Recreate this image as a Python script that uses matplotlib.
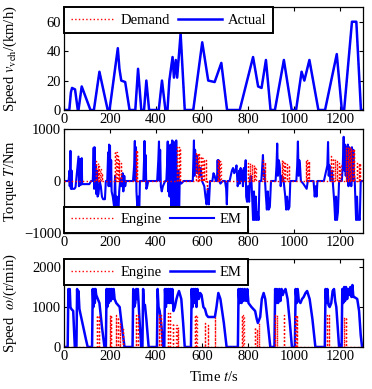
import numpy as np
import matplotlib
matplotlib.use("Agg")
import matplotlib.pyplot as plt

plt.rcParams['font.family'] = ['Liberation Serif', 'DejaVu Serif']
plt.rcParams['mathtext.fontset'] = 'stix'
plt.rcParams['font.size'] = 10.5

# ---------------- data ----------------
# Vehicle speed (km/h)
veh_t = [0, 23, 30, 35, 48, 60, 63, 77, 115, 130, 154, 190, 198, 234, 241, 249, 266, 285,
         310, 322, 336, 348, 358, 370, 412, 426, 441, 450, 458, 472, 478, 486, 492, 507, 525,
         562, 601, 627, 655, 684, 709, 764, 822, 844, 859, 878, 898, 917, 956, 990, 1009,
         1033, 1045, 1067, 1106, 1135, 1186, 1208, 1218, 1252, 1271, 1291, 1300]
actual_v = [0, 0, 12, 15, 14, 0, 0, 16, 0, 0, 26, 0, 0, 42, 28, 20, 19, 0,
            0, 28, 0, 0, 20, 0, 0, 20, 0, 0, 20, 36, 22, 34, 22, 52, 0,
            0, 46, 20, 19, 32, 0, 0, 36, 16, 15, 34, 0, 0, 34, 0, 0,
            26, 20, 34, 0, 0, 38, 0, 0, 60, 60, 0, 0]
demand_v = [0, 0, 12, 15, 14, 0, 0, 16, 0, 0, 26, 0, 0, 42, 28, 20, 19, 0,
            0, 28, 0, 0, 20, 0, 0, 20, 0, 0, 20, 36, 22, 34, 22, 52, 0,
            0, 46, 20, 19, 32, 0, 0, 36, 16, 15, 34, 0, 0, 34, 0, 0,
            26, 20, 34, 0, 0, 38, 0, 0, 60, 60, 0, 0]

# EM torque (Nm), polyline points
em_T_t = [0, 20, 24, 25, 28, 30, 33, 35, 45, 50, 63, 65, 70, 72, 77, 79, 85, 110, 118, 125,
          127, 129, 131, 133, 135, 138, 140, 143, 146, 150, 155, 160, 165, 170, 178, 182, 188,
          190, 192, 194, 196, 198, 200, 202, 205, 207, 212, 218, 222, 226, 230, 236, 240, 245,
          250, 255, 258, 262, 266, 270, 300,
          305, 308, 310, 313, 315, 320, 323, 327, 330, 345,
          348, 350, 352, 355, 358, 362, 366, 405,
          410, 413, 415, 418, 421, 425, 430, 440, 445,
          448, 451, 453, 456, 459, 463, 466, 470, 472, 476, 479, 482, 485, 488, 490, 494, 497,
          500, 503, 510, 520, 560,
          562, 565, 567, 570, 573, 576, 580, 585, 590, 595, 600, 610, 615, 620, 625, 630, 635,
          645, 650, 655, 660, 665,
          668, 670, 672, 675, 680, 690, 700, 705, 708, 711, 720,
          730, 735, 740, 745, 750, 755, 760,
          762, 764, 768, 770, 775, 778, 782, 785, 790, 792, 796, 800, 805, 808, 812, 815,
          818, 822, 826, 830, 834, 838, 842, 846, 850, 858, 862, 865, 868, 871, 874, 878,
          882, 886, 890, 895, 900, 920,
          924, 927, 930, 934, 938, 942, 948, 955, 962, 966, 970, 975, 980, 984, 1010,
          1014, 1017, 1020, 1023, 1026, 1030, 1040, 1055, 1060, 1085, 1090, 1095, 1098, 1102, 1130,
          1135, 1140, 1145, 1148, 1151, 1154, 1158, 1165, 1170, 1175, 1179, 1183, 1187, 1191,
          1196, 1208,
          1212, 1216, 1219, 1222, 1225, 1228, 1231, 1234, 1237, 1240, 1243, 1246, 1249, 1252,
          1255, 1258, 1261, 1264, 1267, 1270, 1274, 1278, 1282, 1286, 1290, 1300]
em_T_v = [0, 0, 200, -100, 580, -150, 200, -150, -150, -120, 470, -100, 420, -80, 440, -60, -60, -60, 0, 0,
          250, 640, -150, 650, -100, 300, -250, 200, -300, -250, 0, -100, -300, -350, -350, 0, 0,
          300, 550, -100, 700, 200, 680, -100, 400, -200, -300, -500, 100, -600, -300, -700, -200, 50,
          -100, 150, -200, 100, -100, 0, 0,
          300, 770, 0, 650, -200, -600, -300, -650, 0, 0,
          400, 770, 0, 500, -150, -100, 0, 0,
          400, 760, 0, 600, -100, -200, -100, 0, 0,
          300, 760, -200, 600, -300, 700, -500, 780, -700, 760, -400, 600, -900, 780, -300, -900, 200,
          -800, 0, -50, 0, 0,
          300, 780, 100, 600, 200, 500, 150, 300, 100, 250, 0, -100, -300, -450, -150, -450, 0,
          0, 150, 100, 0, 0,
          400, 150, 400, 0, -50, 0, 0, -150, -450, 0, 0,
          200, 250, 150, 200, 300, -100, 0,
          200, -50, 250, 0, 200, -100, 250, 0, 400, -300, -400, -100, -400, 0, 100, 0,
          -300, -750, -200, -750, -300, -750, -600, -750, 0, 0, 300, 500, 100, 200, 0, -300,
          -550, -200, -550, -500, 0, 0,
          300, 720, 100, 400, 300, -100, 100, 0, -300, -550, -300, -550, -500, 0, 0,
          300, 760, 100, 400, 300, 0, -50, -150, 0, 0, -300, -100, -300, 0, 0,
          100, 200, 300, 750, 100, 300, 0, 200, -100, -400, -750, -300, -750, -600,
          0, 0,
          300, 850, 200, 700, 100, 650, 0, 700, -100, 650, 0, 600, -100, 650,
          0, 600, 100, 0, -400, -750, -300, -750, -700, -750, 0, 0]

# Engine torque (Nm), spikes (time, value)
eng_T_t = [140, 146, 152, 158, 164,
           222, 228, 234, 240, 246,
           312, 318,
           492, 498, 504,
           574, 581, 588, 595, 602, 609, 616, 622,
           668, 674, 680,
           800, 808, 816, 824, 832,
           866, 874,
           946, 954, 962, 970, 978,
           1050, 1058, 1066,
           1162, 1170, 1178, 1186, 1194, 1202,
           1227, 1234, 1241, 1248, 1255, 1262, 1273, 1281, 1288]
eng_T_v = [380, 340, 290, 230, 150,
           580, 550, 480, 410, 350,
           600, 600,
           650, 650, 640,
           550, 530, 510, 480, 450, 420, 400, -150,
           400, 400, 380,
           350, 340, 320, 300, 260,
           400, 360,
           400, 380, 350, 320, 300,
           400, 400, 380,
           480, 450, 420, 390, 350, 300,
           650, 650, 650, 640, 620, 600, 350, 350, 350]

# EM speed (r/min), polyline points
em_w_t = [0, 16, 19, 22, 25, 28, 32, 40, 47, 54, 57, 60, 63, 67, 80, 95, 103, 122,
          125, 128, 131, 134, 137, 140, 147, 154, 165, 176, 182,
          185, 188, 191, 195, 199, 203, 207, 212, 216, 220, 227, 242, 250, 263, 298,
          301, 305, 310, 314, 318, 321, 328, 336, 341,
          344, 348, 352, 358, 368, 404,
          407, 411, 416, 424, 431, 436,
          439, 443, 447, 451, 455, 459, 463, 467, 471, 476, 482, 489, 494, 500, 510, 518, 525, 552,
          555, 559, 563, 567, 571, 576, 580, 586, 592, 598, 606, 613, 620, 627, 656, 663, 671,
          680, 695, 707, 756,
          759, 763, 767, 772, 776, 781, 786, 792, 797, 802, 815, 831, 838, 843, 853, 860, 868,
          875, 888, 897, 915,
          918, 922, 926, 931, 936, 941, 946, 951, 957, 963, 972, 982, 991, 1004,
          1007, 1012, 1016, 1021, 1028, 1035, 1042, 1050, 1057, 1068, 1080, 1093, 1134,
          1137, 1141, 1145, 1150, 1155, 1162, 1168, 1174, 1179, 1184, 1190, 1196, 1207,
          1210, 1214, 1218, 1222, 1226, 1231, 1236, 1240, 1245, 1250, 1254, 1258, 1262, 1275,
          1283, 1290, 1296, 1300]
em_w_v = [0, 0, 1450, 1000, 1450, 1000, 950, 900, 0, 0, 1450, 1000, 1400, 950, 600, 200, 0, 0,
          1450, 1000, 1450, 1100, 1450, 1300, 1200, 1100, 500, 0, 0,
          1450, 1000, 1450, 1100, 1450, 1150, 1450, 1200, 1450, 1200, 1100, 1000, 600, 0, 0,
          1450, 1000, 1100, 1450, 1200, 1450, 700, 0, 0,
          1450, 1000, 1050, 700, 0, 0,
          1450, 1000, 900, 500, 0, 0,
          1450, 1000, 1450, 1100, 1450, 1100, 1450, 1100, 1450, 900, 1000, 1200, 1300, 1400, 1200, 600, 0, 0,
          1450, 1000, 1450, 1100, 1450, 1000, 1450, 1200, 1350, 1300, 1000, 950, 800, 750, 750, 1000, 1350,
          1200, 600, 0, 0,
          1450, 1100, 1450, 1100, 1450, 1150, 1450, 1150, 1450, 1100, 1000, 900, 700, 600, 750, 1200, 1350,
          1200, 500, 0, 0,
          1450, 1100, 1450, 1100, 1450, 1150, 1450, 1300, 1400, 1450, 1200, 600, 0, 0,
          1450, 1100, 1450, 1150, 1100, 1200, 1250, 1350, 1400, 1200, 700, 0, 0,
          1450, 1100, 1450, 1050, 1000, 1100, 1400, 1450, 1150, 1000, 500, 0, 0,
          1450, 1100, 1500, 1150, 1500, 1200, 1450, 1300, 1500, 1250, 1550, 1250, 1250, 1200,
          900, 300, 0, 0]

# Engine speed (r/min), spikes (time, value)
eng_w_t = [142, 150, 198, 205, 227, 234, 242, 255, 314, 321, 413, 420, 452, 461, 474, 489, 496,
           569, 576, 613, 627, 656, 773, 780, 831, 838, 846, 918, 925, 955, 1006, 1013,
           1144, 1151, 1217, 1224]
eng_w_v = [800, 800, 800, 800, 800, 750, 600, 450, 800, 800, 800, 800, 850, 850, 600, 550, 500,
           800, 800, 600, 550, 750, 800, 800, 500, 450, 600, 800, 800, 800, 800, 800,
           800, 800, 750, 750]

x_ticks = [0, 200, 400, 600, 800, 1000, 1200]


def spikes(ts, vs, width=1.0, end=1300):
    xs, ys = [0], [0]
    for t, v in zip(ts, vs):
        xs += [t, t, t + width, t + width]
        ys += [0, v, v, 0]
    xs.append(end)
    ys.append(0)
    return xs, ys


# ---------------- figure ----------------
W, H = 372, 389
fig = plt.figure(figsize=(W / 100, H / 100), dpi=100)


def add_ax(top, bottom, left=64, right=363):
    return fig.add_axes([left / W, 1 - bottom / H, (right - left) / W, (bottom - top) / H])


ax1 = add_ax(7, 110)
ax2 = add_ax(129, 233)
ax3 = add_ax(259, 347)

red = '#ff0000'
blue = '#0000ff'

ax1.plot(veh_t, demand_v, color=red, ls=':', lw=1.0, label='Demand', zorder=1)
ax1.plot(veh_t, actual_v, color=blue, ls='-', lw=1.8, label='Actual', zorder=2)
ax1.set_ylim(0, 70)
ax1.set_yticks([0, 20, 40, 60])
ax1.set_ylabel(r'Speed $v_{\rm veh}$/(km/h)')

ex, ey = spikes(eng_T_t, eng_T_v)
ax2.plot(em_T_t, em_T_v, color=blue, lw=1.5, label='EM', zorder=2)
ax2.plot(ex, ey, color=red, ls=':', lw=1.0, label='Engine', zorder=3)
ax2.set_ylim(-1000, 1000)
ax2.set_yticks([-1000, 0, 1000])
ax2.set_ylabel(r'Torque $T$/Nm')

wx, wy = spikes(eng_w_t, eng_w_v)
ax3.plot(em_w_t, em_w_v, color=blue, lw=1.8, label='EM', zorder=2)
ax3.plot(wx, wy, color=red, ls=':', lw=1.0, label='Engine', zorder=3)
ax3.set_ylim(0, 2200)
ax3.set_yticks([0, 1000, 2000])
ax3.set_ylabel(r'Speed  $\omega$/(r/min)')
ax3.set_xlabel(r'Time $t$/s', labelpad=5)

for ax in (ax1, ax2, ax3):
    ax.set_xlim(0, 1300)
    ax.set_xticks(x_ticks)
    ax.tick_params(direction='in', length=3, width=0.8, top=True, right=True, pad=2,
                   labelsize=10.5)
    for s in ax.spines.values():
        s.set_linewidth(0.9)
    ax.yaxis.set_label_coords(-0.152, 0.5)

leg_kw = dict(frameon=True, fancybox=False, edgecolor='black', framealpha=1,
              borderaxespad=0, ncol=2, handlelength=3.0, columnspacing=0.6,
              handletextpad=0.4, borderpad=0.45, fontsize=10.5)
l1 = ax1.legend(loc='upper left', **leg_kw)
h2, lab2 = ax2.get_legend_handles_labels()
l2 = ax2.legend(h2[::-1], lab2[::-1], loc='lower left', **leg_kw)
h3, lab3 = ax3.get_legend_handles_labels()
l3 = ax3.legend(h3[::-1], lab3[::-1], loc='upper left', **leg_kw)
for l in (l1, l2, l3):
    l.get_frame().set_linewidth(1.4)
    l.set_zorder(10)

fig.savefig('out.png', dpi=100)
